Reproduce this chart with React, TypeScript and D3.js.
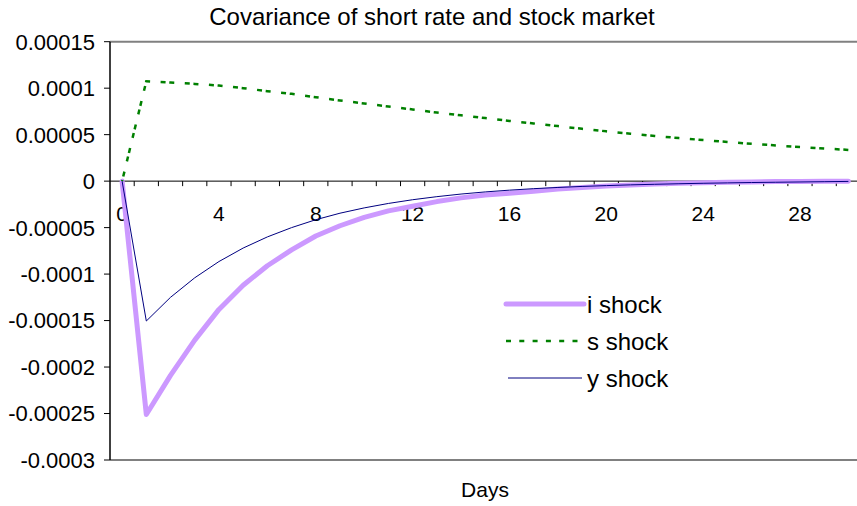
import React from "react";
import * as d3 from "d3";

const days = [0,1,2,3,4,5,6,7,8,9,10,11,12,13,14,15,16,17,18,19,20,21,22,23,24,25,26,27,28,29,30];
const xTickLabels = [0, 4, 8, 12, 16, 20, 24, 28];
const yTickValues = [0.00015, 0.0001, 0.00005, 0, -0.00005, -0.0001, -0.00015, -0.0002, -0.00025, -0.0003];
const yTickLabels = ["0.00015", "0.0001", "0.00005", "0", "-0.00005", "-0.0001", "-0.00015", "-0.0002", "-0.00025", "-0.0003"];

const iShock = [0, -0.000251, -0.000209, -0.000171, -0.000138, -0.000112, -0.000091, -0.000074, -0.000059, -0.000048, -0.000039, -0.000032, -0.000027, -0.000022, -0.000018, -0.000015, -0.000013, -0.000011, -0.0000085, -0.0000068, -0.0000053, -0.0000042, -0.0000032, -0.0000024, -0.0000017, -0.0000012, -0.0000008, -0.0000005, -0.0000003, -0.0000001, 0];
const sShock = [0, 0.0001075, 0.0001061, 0.0001046, 0.0001029, 0.0001, 0.0000968, 0.0000939, 0.0000903, 0.0000868, 0.0000835, 0.0000803, 0.0000771, 0.0000738, 0.0000708, 0.0000678, 0.0000648, 0.000062, 0.0000592, 0.0000563, 0.0000536, 0.000051, 0.0000486, 0.0000463, 0.0000442, 0.0000421, 0.0000402, 0.0000384, 0.0000367, 0.0000351, 0.0000336];
const yShock = [0, -0.0001505, -0.000125, -0.000104, -0.0000865, -0.000072, -0.00006, -0.00005, -0.0000415, -0.0000345, -0.0000288, -0.000024, -0.00002, -0.0000167, -0.0000139, -0.0000116, -0.0000097, -0.0000081, -0.0000068, -0.0000057, -0.0000048, -0.000004, -0.0000034, -0.0000028, -0.0000023, -0.0000019, -0.0000015, -0.0000012, -0.0000009, -0.0000006, -0.0000003];

const seriesNames = ["i shock", "s shock", "y shock"];

const W = 857, H = 506;
const FONT = "'Liberation Sans', Arial, Helvetica, sans-serif";

export default function App() {
  const x = d3.scaleLinear().domain([-0.5, 30.5]).range([110, 860.5]);
  const y = d3.scaleLinear().domain([-0.0003, 0.00015]).range([460, 41.7]);
  const line = d3.line<number>().x((_, i) => x(days[i])).y((v) => y(v));
  const y0 = y(0);
  const L0 = Math.hypot(x(1) - x(0), y(sShock[1]) - y(sShock[0]));
  const boundaries = d3.range(0, 31).map((k) => k + 0.5);

  return (
    <svg width={W} height={H} style={{ position: "absolute", left: 0, top: 0, background: "#fff" }} fontFamily={FONT}>
      <rect x={0} y={0} width={W} height={H} fill="#fff" />
      {/* plot border */}
      <line x1={110} x2={861} y1={y(0.00015)} y2={y(0.00015)} stroke="#808080" strokeWidth={2} />
      <line x1={110} x2={861} y1={y(-0.0003)} y2={y(-0.0003)} stroke="#808080" strokeWidth={2} />
      {/* y axis */}
      <line x1={110} x2={110} y1={y(0.00015)} y2={y(-0.0003)} stroke="#000" strokeWidth={1.5} />
      {yTickValues.map((v, i) => (
        <g key={i}>
          <line x1={104} x2={110} y1={y(v)} y2={y(v)} stroke="#000" strokeWidth={1} />
          <text x={95} y={y(v)} dy="0.36em" textAnchor="end" fontSize={22} fill="#000">{yTickLabels[i]}</text>
        </g>
      ))}
      {/* zero axis */}
      <line x1={110} x2={861} y1={y0} y2={y0} stroke="#000" strokeWidth={1} />
      {boundaries.map((b) => (
        <line key={b} x1={x(b)} x2={x(b)} y1={y0} y2={y0 + 5} stroke="#000" strokeWidth={1} />
      ))}
      {xTickLabels.map((d) => (
        <text key={d} x={x(d)} y={221} textAnchor="middle" fontSize={21} fill="#000">{d}</text>
      ))}
      {/* series */}
      <path d={line(iShock) || ""} fill="none" stroke="#CC99FF" strokeWidth={5} strokeLinejoin="round" strokeLinecap="round" />
      <path d={line(sShock) || ""} fill="none" stroke="#008000" strokeWidth={2.5} strokeDasharray="5,3.7,5,10.5" strokeDashoffset={-(L0 + 14.3)} />
      <path d={line(yShock) || ""} fill="none" stroke="#000080" strokeWidth={1} />
      {/* title */}
      <text x={432} y={25} textAnchor="middle" fontSize={24} fill="#000">Covariance of short rate and stock market</text>
      <text x={485} y={497} textAnchor="middle" fontSize={21} fill="#000">Days</text>
      {/* legend */}
      <line x1={506} x2={584} y1={304} y2={304} stroke="#CC99FF" strokeWidth={5} strokeLinecap="round" />
      <line x1={506} x2={584} y1={341} y2={341} stroke="#008000" strokeWidth={2.5} strokeDasharray="5,8.3" />
      <line x1={508} x2={582} y1={378} y2={378} stroke="#000080" strokeWidth={1} />
      {seriesNames.map((n, i) => (
        <text key={n} x={587} y={[313, 350, 387][i]} fontSize={24} fill="#000">{n}</text>
      ))}
    </svg>
  );
}
